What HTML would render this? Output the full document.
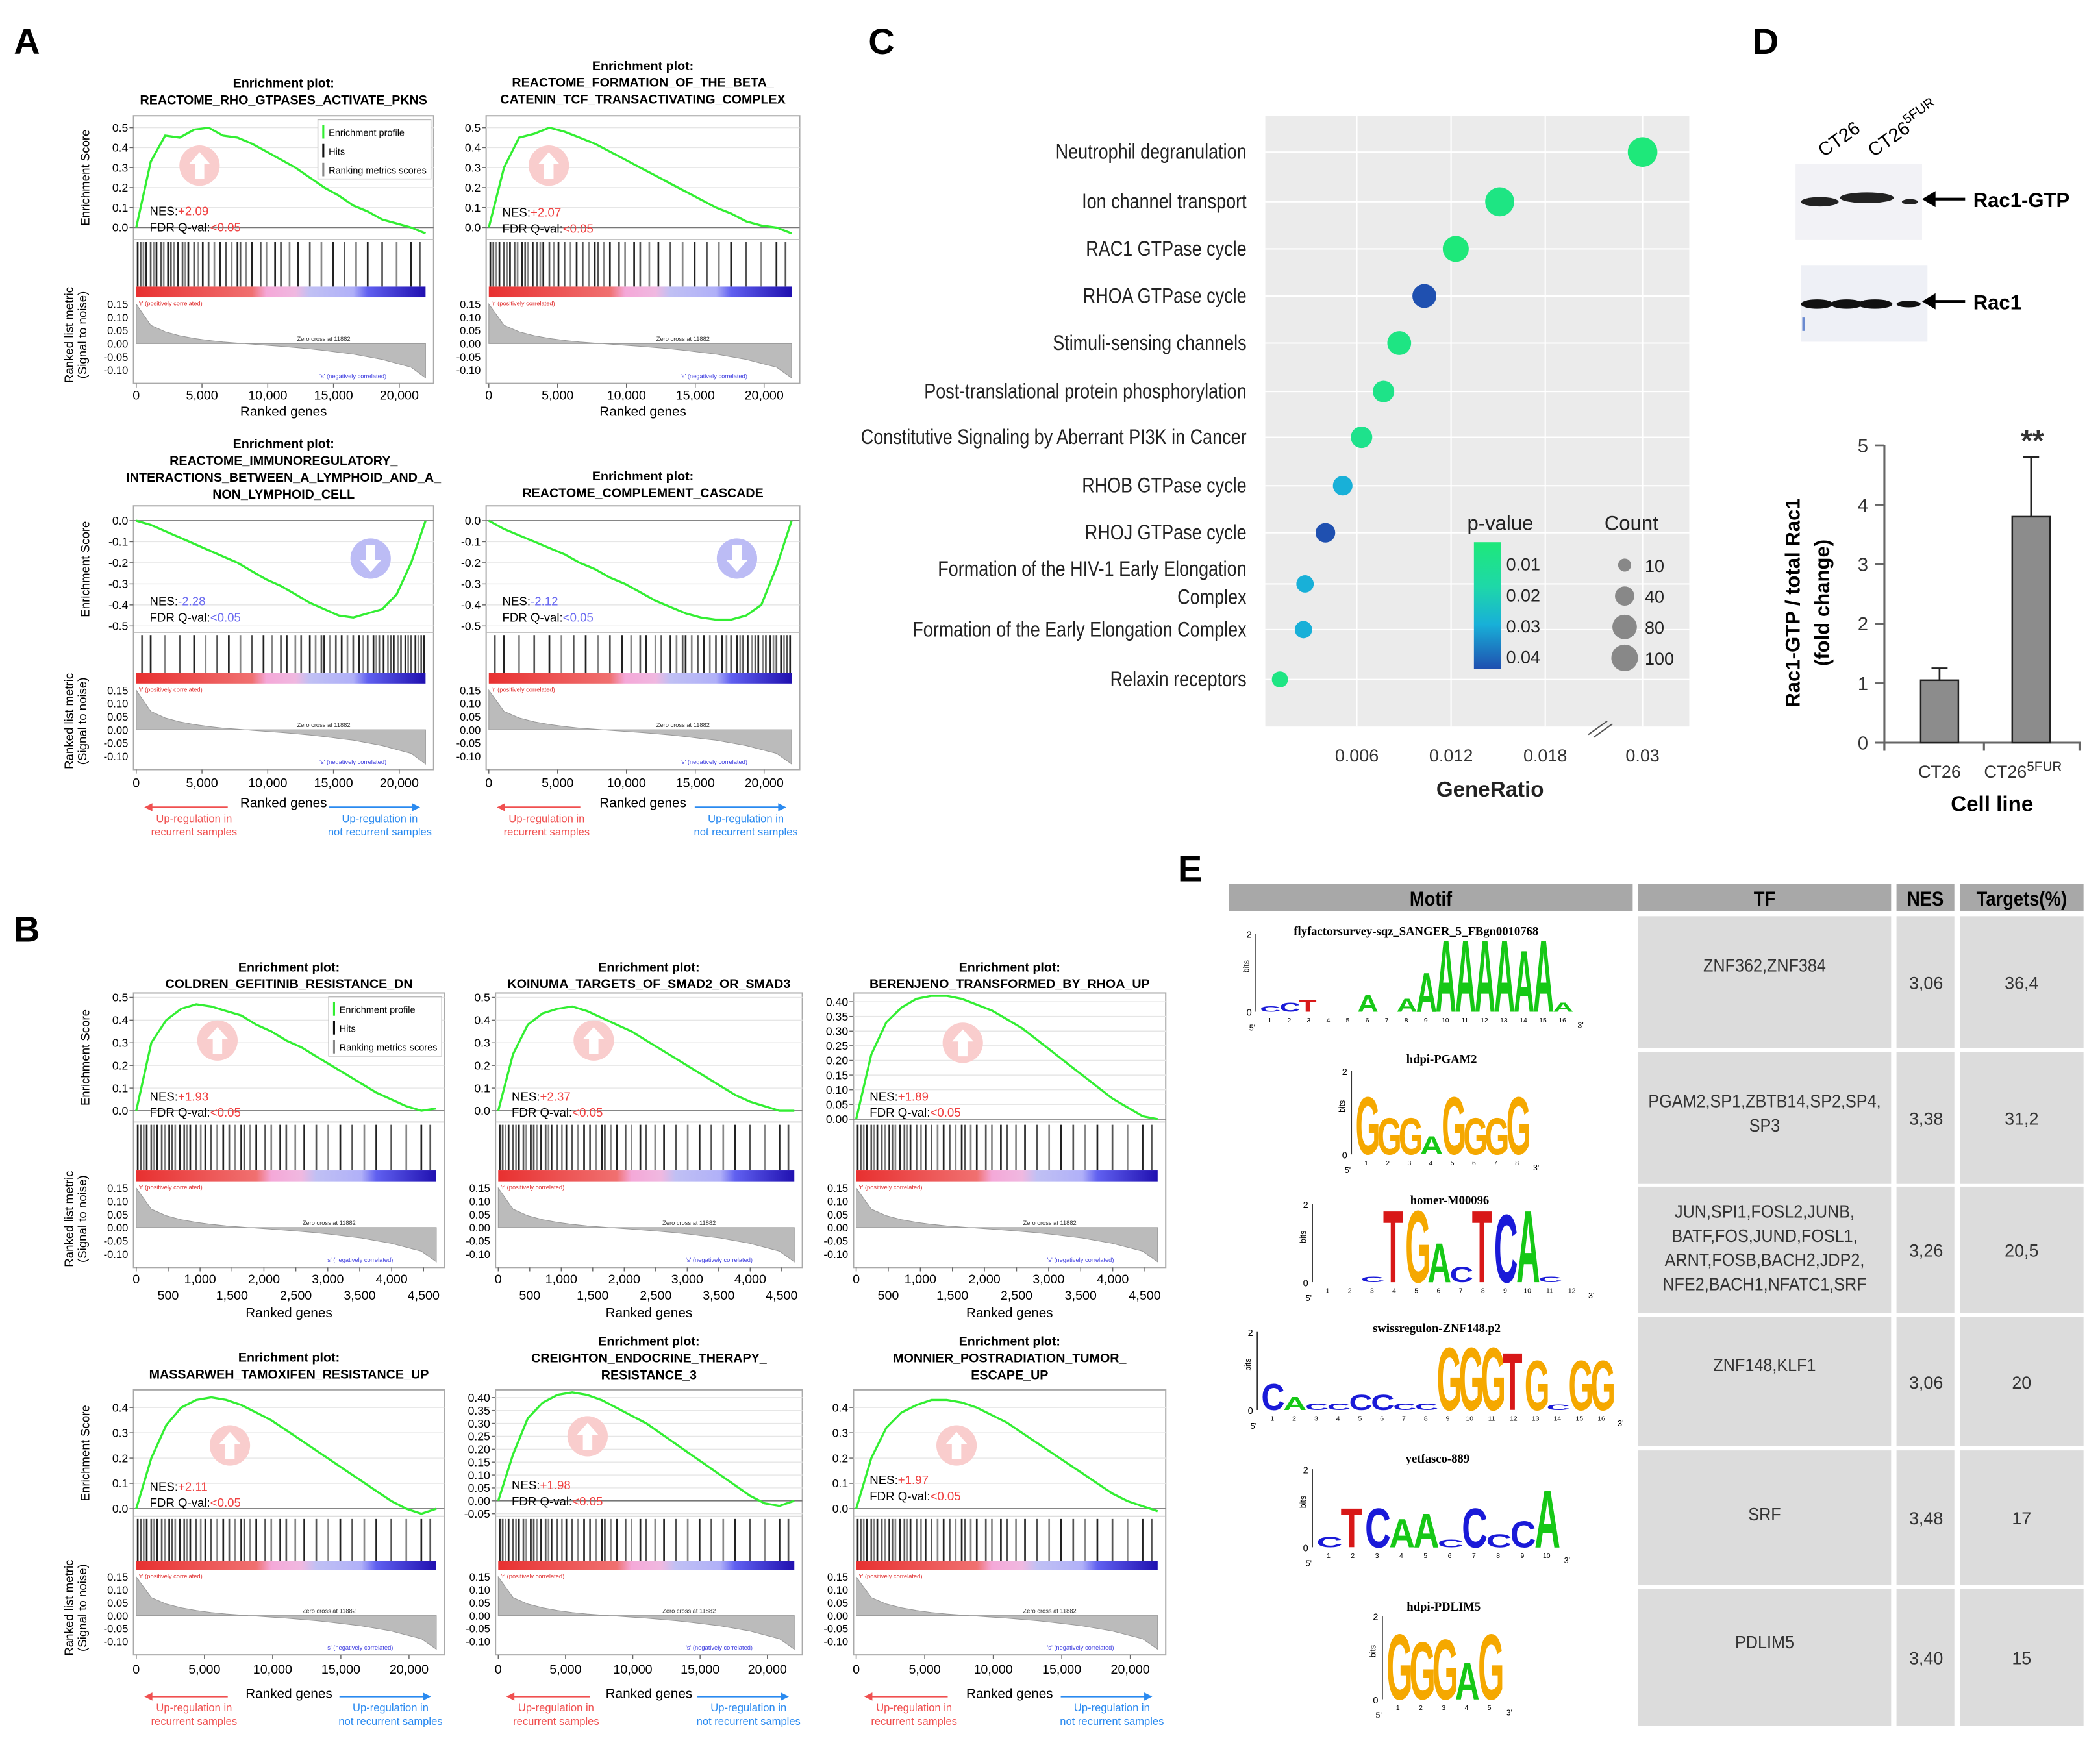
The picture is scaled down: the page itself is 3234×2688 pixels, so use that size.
<!DOCTYPE html>
<html><head><meta charset="utf-8"><style>
html,body{margin:0;padding:0;background:#fff;}
svg{display:block;font-family:"Liberation Sans",sans-serif;}
</style></head><body>
<svg id="fig" width="3234" height="2688" viewBox="0 0 1560 1297" xmlns="http://www.w3.org/2000/svg">
<defs>
<linearGradient id="rankbar" x1="0" x2="1" y1="0" y2="0">
<stop offset="0" stop-color="#e83030"/><stop offset="0.4" stop-color="#f07070"/><stop offset="0.45" stop-color="#f4a8d8"/><stop offset="0.55" stop-color="#f0b8e0"/><stop offset="0.6" stop-color="#c0c0f4"/><stop offset="0.75" stop-color="#b0b0f8"/><stop offset="0.8" stop-color="#6060f0"/><stop offset="1" stop-color="#2010b0"/>
</linearGradient>
<linearGradient id="pgrad" x1="0" x2="0" y1="0" y2="1">
<stop offset="0" stop-color="#1ee87a"/><stop offset="0.35" stop-color="#1ed8a8"/><stop offset="0.65" stop-color="#18b0d8"/><stop offset="1" stop-color="#1f50b0"/>
</linearGradient>
<linearGradient id="band" x1="0" x2="1" y1="0" y2="0">
<stop offset="0" stop-color="#222"/><stop offset="0.3" stop-color="#111"/><stop offset="0.7" stop-color="#000"/><stop offset="0.9" stop-color="#555"/><stop offset="1" stop-color="#999"/>
</linearGradient>
</defs>
</svg>
<script>
// ---------- DATA ----------
const esA1=[0,0.33,0.46,0.45,0.49,0.5,0.46,0.45,0.42,0.38,0.34,0.3,0.25,0.2,0.16,0.11,0.08,0.04,0.02,0.0,-0.03];
const esA2=[0,0.3,0.45,0.47,0.5,0.48,0.45,0.42,0.38,0.34,0.3,0.26,0.22,0.18,0.14,0.1,0.07,0.03,0.01,0.0,-0.03];
const esA3=[0,-0.02,-0.05,-0.08,-0.11,-0.14,-0.17,-0.2,-0.24,-0.28,-0.31,-0.35,-0.39,-0.42,-0.45,-0.46,-0.44,-0.42,-0.35,-0.2,0.0];
const esA4=[0,-0.04,-0.07,-0.1,-0.13,-0.16,-0.2,-0.23,-0.27,-0.3,-0.34,-0.38,-0.41,-0.44,-0.46,-0.47,-0.47,-0.45,-0.4,-0.22,0.0];
const esB1=[0,0.3,0.4,0.45,0.47,0.46,0.44,0.42,0.38,0.35,0.31,0.28,0.24,0.2,0.16,0.12,0.08,0.05,0.02,0.0,0.01];
const esB2=[0,0.25,0.38,0.43,0.45,0.46,0.44,0.41,0.38,0.35,0.31,0.27,0.23,0.19,0.15,0.11,0.07,0.04,0.02,0.0,0.0];
const esB3=[0,0.22,0.33,0.38,0.41,0.42,0.42,0.41,0.39,0.37,0.34,0.31,0.27,0.23,0.19,0.15,0.11,0.07,0.04,0.01,0.0];
const esB4=[0,0.2,0.33,0.4,0.43,0.44,0.43,0.41,0.38,0.35,0.31,0.27,0.23,0.19,0.15,0.11,0.07,0.03,0.0,-0.02,0.0];
const esB5=[0,0.18,0.32,0.38,0.41,0.42,0.41,0.39,0.36,0.33,0.3,0.26,0.22,0.18,0.14,0.1,0.06,0.02,-0.01,-0.02,0.0];
const esB6=[0,0.2,0.32,0.38,0.41,0.43,0.43,0.42,0.4,0.37,0.34,0.3,0.26,0.22,0.18,0.14,0.1,0.06,0.03,0.01,-0.01];
const hitsUp=[0.005,0.015,0.025,0.035,0.05,0.06,0.07,0.085,0.095,0.11,0.12,0.13,0.145,0.16,0.17,0.18,0.2,0.215,0.23,0.25,0.27,0.29,0.31,0.33,0.35,0.36,0.38,0.4,0.43,0.45,0.48,0.5,0.53,0.56,0.6,0.64,0.68,0.72,0.76,0.8,0.85,0.9,0.95,0.98];
const rankCurve=[0.15,0.07,0.045,0.03,0.02,0.012,0.006,0.002,-0.002,-0.006,-0.01,-0.015,-0.02,-0.026,-0.033,-0.04,-0.05,-0.06,-0.075,-0.09,-0.13];
const cTerms=["Neutrophil degranulation","Ion channel transport","RAC1 GTPase cycle","RHOA GTPase cycle","Stimuli-sensing channels","Post-translational protein phosphorylation","Constitutive Signaling by Aberrant PI3K in Cancer","RHOB GTPase cycle","RHOJ GTPase cycle","Formation of the HIV-1 Early Elongation|Complex","Formation of the Early Elongation Complex","Relaxin receptors"];
const cRatio=[0.03,0.0151,0.0123,0.0103,0.0087,0.0077,0.0063,0.0051,0.004,0.0027,0.0026,0.0011];
const cPval=[0.01,0.012,0.008,0.04,0.012,0.013,0.014,0.03,0.042,0.03,0.03,0.012];
const cCount=[100,95,70,55,55,40,40,30,30,20,20,15];
const cTicks=[0.006,0.012,0.018,0.03];
const dLabels=["CT26","CT26"];
const dValues=[1.05,3.8];
const dErrors=[0.2,1.0];
const dTicks=[0,1,2,3,4,5];

// ---------- HELPERS ----------
const NS='http://www.w3.org/2000/svg';
const svg=document.getElementById('fig');
function el(tag,attrs,parent){const e=document.createElementNS(NS,tag);for(const k in attrs)e.setAttribute(k,attrs[k]);(parent||svg).appendChild(e);return e;}
function txt(s,x,y,attrs,parent){const t=el('text',Object.assign({x:x,y:y},attrs||{}),parent);t.textContent=s;return t;}

// panel letters
[["A",10,40],["B",10,700],["C",645,40],["D",1302,40],["E",875,655]].forEach(p=>{
  const t=txt(p[0],p[1],p[2],{'font-size':27,'font-weight':'bold'});
  
  
});

// ---------- GSEA ----------
function gsea(c){
  const g=el('g',{});
  
  
  const x0=c.x0,x1=c.x1,w=x1-x0;
  const yE=v=>c.top+(c.esTop-v)/(c.esTop-c.esBot)*(c.esB-c.top);
  // titles
  c.title.forEach((s,i)=>{const t=txt(s,(x0+x1)/2,c.ty+i*12.5,{'font-size':9.5,'font-weight':'bold','text-anchor':'middle'},g);
    });
  const box=el('rect',{x:x0,y:c.top,width:w,height:c.rankB-c.top,fill:'#fff',stroke:'#aaa','stroke-width':1},g);
  
  // grid & ES ticks
  c.esTicks.forEach(v=>{
    el('line',{x1:x0,x2:x1,y1:yE(v),y2:yE(v),stroke:'#e6e6e6','stroke-width':0.7},g);
    el('line',{x1:x0-3,x2:x0,y1:yE(v),y2:yE(v),stroke:'#666','stroke-width':0.7},g);
    const t=txt(v.toFixed(c.esDec),x0-4,yE(v)+3,{'font-size':8.5,'text-anchor':'end'},g);
    
  });
  el('line',{x1:x0,x2:x1,y1:yE(0),y2:yE(0),stroke:'#777','stroke-width':0.8},g);
  el('line',{x1:x0,x2:x1,y1:c.esB,y2:c.esB,stroke:'#bbb','stroke-width':0.8},g);
  // arrow circle
  const ax=x0+w*c.arrowFx, ay=yE(c.arrowV);
  const circ=el('circle',{cx:ax,cy:ay,r:15,fill:c.up?'#f9cdcd':'#bcbcf5'},g);
  
  const d=c.up?1:-1;
  el('path',{d:`M${ax},${ay-10*d} L${ax-8},${ay-1*d} L${ax-3.5},${ay-1*d} L${ax-3.5},${ay+10*d} L${ax+3.5},${ay+10*d} L${ax+3.5},${ay-1*d} L${ax+8},${ay-1*d} Z`,fill:'#fff'},g);
  // curve
  const n=c.es.length-1;
  const pts=c.es.map((v,i)=>(x0+2+(w-8)*i/n).toFixed(1)+','+yE(v).toFixed(1)).join(' ');
  const pl=el('polyline',{points:pts,fill:'none',stroke:'#33ee33','stroke-width':1.6},g);
  
  // NES
  const nc=c.up?'#f04040':'#6a6af0';
  const t1=txt('',x0+12,c.nesY,{'font-size':9},g);
  
  el('tspan',{},t1).textContent='NES:';el('tspan',{fill:nc},t1).textContent=c.nes;
  const t2=txt('',x0+12,c.nesY+12,{'font-size':9},g);
  
  el('tspan',{},t2).textContent='FDR Q-val:';el('tspan',{fill:nc},t2).textContent=c.up?'<0.05':'<0.05';
  // legend
  if(c.legend){
    const lg=el('g',{},g);
    const lx=x1-86,ly=c.top+3;
    el('rect',{x:lx,y:ly,width:84,height:44,fill:'#fff',stroke:'#bbb','stroke-width':0.7},lg);
    [['#33ee33','Enrichment profile'],['#111','Hits'],['#888','Ranking metrics scores']].forEach((e,i)=>{
      el('line',{x1:lx+4,x2:lx+4,y1:ly+4+i*14,y2:ly+14+i*14,stroke:e[0],'stroke-width':1.5},lg);
      txt(e[1],lx+8,ly+12+i*14,{'font-size':7},lg);
    });
  }
  // hits
  const hg=el('g',{},g);
  c.hits.forEach((f,i)=>{const hx=x0+2+(w-8)*(c.up?f:1-f);
    el('line',{x1:hx,x2:hx,y1:c.esB+2,y2:c.hitB,stroke:i%3==0?'#222':(i%3==1?'#555':'#888'),'stroke-width':1.3},hg);});
  const rb=el('rect',{x:x0+2,y:c.hitB,width:w-8,height:c.colB-c.hitB,fill:'url(#rankbar)'},g);
  
  // ranked metric
  const r0=c.colB+5,r1=c.rankB-10;
  const yR=v=>r0+(0.15-v)/0.25*(r1-r0);
  [0.15,0.10,0.05,0.00,-0.05,-0.10].forEach(v=>{
    const t=txt(v.toFixed(2),x0-4,yR(v)+3,{'font-size':8,'text-anchor':'end'},g);
    });
  const m=rankCurve.length-1;
  let dd=`M${x0+2},${yR(0)}`;
  rankCurve.forEach((v,i)=>{dd+=` L${(x0+2+(w-8)*i/m).toFixed(1)},${yR(v).toFixed(1)}`;});
  dd+=` L${x1-6},${yR(0)} Z`;
  const ar=el('path',{d:dd,fill:'#bbb',stroke:'#999','stroke-width':0.5},g);
  
  txt("'r' (positively correlated)",x0+4,c.colB+6,{'font-size':4.5,fill:'#e03030'},g);
  txt("Zero cross at 11882",(x0+x1)/2+10,yR(0)-2,{'font-size':4.5,fill:'#333'},g);
  txt("'s' (negatively correlated)",x0+w*0.62,c.rankB-4,{'font-size':4.5,fill:'#4040e0'},g);
  // x ticks
  c.xTicks.forEach((v,i)=>{const tx=x0+2+(w-8)*v/c.xMax;
    el('line',{x1:tx,x2:tx,y1:c.rankB,y2:c.rankB+3,stroke:'#666','stroke-width':0.7},g);
    const ly=c.xAlt?(i%2==0?c.xy:c.xy+12):c.xy;
    const t=txt(v.toLocaleString('en-US'),tx,ly,{'font-size':9.5,'text-anchor':'middle'},g);
    });
  const xt=txt('Ranked genes',(x0+x1)/2,c.xty,{'font-size':10,'text-anchor':'middle'},g);
  
  if(c.ylab){
    const yl=txt('Enrichment Score',0,0,{'font-size':9,'text-anchor':'middle',transform:`translate(${x0-33},${(c.top+c.esB)/2}) rotate(-90)`},g);
    
    const y2=txt('Ranked list metric',0,0,{'font-size':9,'text-anchor':'middle',transform:`translate(${x0-45},${(c.hitB+c.rankB)/2}) rotate(-90)`},g);
    
    txt('(Signal to noise)',0,0,{'font-size':9,'text-anchor':'middle',transform:`translate(${x0-35},${(c.hitB+c.rankB)/2}) rotate(-90)`},g);
  }
  if(c.updown){
    const ug=el('g',{},g);
    const uy=c.updown;
    el('line',{x1:x0+10,x2:x0+70,y1:uy,y2:uy,stroke:'#f05050','stroke-width':1.2},ug);
    el('path',{d:`M${x0+8},${uy} l6,-3 v6 z`,fill:'#f05050'},ug);
    txt('Up-regulation in',x0+45,uy+11,{'font-size':8,fill:'#f05050','text-anchor':'middle'},ug);
    txt('recurrent samples',x0+45,uy+21,{'font-size':8,fill:'#f05050','text-anchor':'middle'},ug);
    el('line',{x1:x1-78,x2:x1-15,y1:uy,y2:uy,stroke:'#2a8af0','stroke-width':1.2},ug);
    el('path',{d:`M${x1-10},${uy} l-6,-3 v6 z`,fill:'#2a8af0'},ug);
    txt('Up-regulation in',x1-40,uy+11,{'font-size':8,fill:'#2a8af0','text-anchor':'middle'},ug);
    txt('not recurrent samples',x1-40,uy+21,{'font-size':8,fill:'#2a8af0','text-anchor':'middle'},ug);
  }
}
const aTicks=[0,5000,10000,15000,20000];
const bTicks=[0,500,1000,1500,2000,2500,3000,3500,4000,4500];
const up5=[0,0.1,0.2,0.3,0.4,0.5], dn5=[0,-0.1,-0.2,-0.3,-0.4,-0.5], up4=[0,0.1,0.2,0.3,0.4];
const up40=[0,0.05,0.1,0.15,0.2,0.25,0.3,0.35,0.4], up40n=[-0.05,0,0.05,0.1,0.15,0.2,0.25,0.3,0.35,0.4];
const rowA1={top:86,esB:178,hitB:213,colB:221,rankB:285,xy:297,xty:309,xMax:22000,xTicks:aTicks,esDec:1};
const rowA2={top:376,esB:470,hitB:500,colB:508,rankB:572,xy:585,xty:600,xMax:22000,xTicks:aTicks,esDec:1,updown:600};
const rowB1={top:738,esB:834,hitB:870,colB:878,rankB:942,xy:954,xty:979,xMax:4700,xTicks:bTicks,xAlt:true,esDec:1};
const rowB2={top:1033,esB:1127,hitB:1160,colB:1167,rankB:1230,xy:1244,xty:1262,xMax:22000,xTicks:aTicks,esDec:1,updown:1261};
gsea(Object.assign({},rowA1,{name:'gsea-rho-gtpases-pkns',x0:99,x1:322,ty:65,title:['Enrichment plot:','REACTOME_RHO_GTPASES_ACTIVATE_PKNS'],esTop:0.56,esBot:-0.06,esTicks:up5,es:esA1,up:true,nes:'+2.09',nesY:160,arrowFx:0.22,arrowV:0.31,legend:true,ylab:true,hits:hitsUp}));
gsea(Object.assign({},rowA1,{name:'gsea-beta-catenin',x0:361,x1:594,ty:52,title:['Enrichment plot:','REACTOME_FORMATION_OF_THE_BETA_','CATENIN_TCF_TRANSACTIVATING_COMPLEX'],esTop:0.56,esBot:-0.06,esTicks:up5,es:esA2,up:true,nes:'+2.07',nesY:161,arrowFx:0.2,arrowV:0.31,hits:hitsUp}));
gsea(Object.assign({},rowA2,{name:'gsea-immunoregulatory',x0:99,x1:322,ty:333,title:['Enrichment plot:','REACTOME_IMMUNOREGULATORY_','INTERACTIONS_BETWEEN_A_LYMPHOID_AND_A_','NON_LYMPHOID_CELL'],esTop:0.07,esBot:-0.53,esTicks:dn5,es:esA3,up:false,nes:'-2.28',nesY:450,arrowFx:0.79,arrowV:-0.18,ylab:true,hits:hitsUp}));
gsea(Object.assign({},rowA2,{name:'gsea-complement-cascade',x0:361,x1:594,ty:357,title:['Enrichment plot:','REACTOME_COMPLEMENT_CASCADE'],esTop:0.07,esBot:-0.53,esTicks:dn5,es:esA4,up:false,nes:'-2.12',nesY:450,arrowFx:0.8,arrowV:-0.18,hits:hitsUp}));
gsea(Object.assign({},rowB1,{name:'gsea-gefitinib',x0:99,x1:330,ty:722,title:['Enrichment plot:','COLDREN_GEFITINIB_RESISTANCE_DN'],esTop:0.52,esBot:-0.05,esTicks:up5,es:esB1,up:true,nes:'+1.93',nesY:818,arrowFx:0.27,arrowV:0.31,legend:true,ylab:true,hits:hitsUp}));
gsea(Object.assign({},rowB1,{name:'gsea-smad2-smad3',x0:368,x1:596,ty:722,title:['Enrichment plot:','KOINUMA_TARGETS_OF_SMAD2_OR_SMAD3'],esTop:0.52,esBot:-0.05,esTicks:up5,es:esB2,up:true,nes:'+2.37',nesY:818,arrowFx:0.32,arrowV:0.31,hits:hitsUp}));
gsea(Object.assign({},rowB1,{name:'gsea-rhoa-up',x0:634,x1:866,ty:722,title:['Enrichment plot:','BERENJENO_TRANSFORMED_BY_RHOA_UP'],esTop:0.43,esBot:-0.01,esTicks:up40,es:esB3,up:true,nes:'+1.89',nesY:818,arrowFx:0.35,arrowV:0.26,hits:hitsUp,esDec:2}));
gsea(Object.assign({},rowB2,{name:'gsea-tamoxifen',x0:99,x1:330,ty:1012,title:['Enrichment plot:','MASSARWEH_TAMOXIFEN_RESISTANCE_UP'],esTop:0.47,esBot:-0.03,esTicks:up4,es:esB4,up:true,nes:'+2.11',nesY:1108,arrowFx:0.31,arrowV:0.25,ylab:true,hits:hitsUp}));
gsea(Object.assign({},rowB2,{name:'gsea-endocrine-therapy',x0:368,x1:596,ty:1000,title:['Enrichment plot:','CREIGHTON_ENDOCRINE_THERAPY_','RESISTANCE_3'],esTop:0.43,esBot:-0.06,esTicks:up40n,es:esB5,up:true,nes:'+1.98',nesY:1107,arrowFx:0.3,arrowV:0.25,hits:hitsUp,esDec:2}));
gsea(Object.assign({},rowB2,{name:'gsea-tumor-escape',x0:634,x1:866,ty:1000,title:['Enrichment plot:','MONNIER_POSTRADIATION_TUMOR_','ESCAPE_UP'],esTop:0.47,esBot:-0.03,esTicks:up4,es:esB6,up:true,nes:'+1.97',nesY:1103,arrowFx:0.33,arrowV:0.25,hits:hitsUp}));

// ---------- PANEL C ----------
(function(){
  const g=el('g',{});
  const L=940,R=1255,T=86,B=540;
  const bg=el('rect',{x:L,y:T,width:R-L,height:B-T,fill:'#ebebeb'},g);
  
  const xS=v=>v<=0.02?938+v*11667:1190+(v-0.0274)*11667;
  const rowY=[113,150,185,220,255,291,325,361,396,434,468,505];
  cTicks.forEach(v=>{el('line',{x1:xS(v),x2:xS(v),y1:T,y2:B,stroke:'#fff','stroke-width':1},g);
    const t=txt(v.toString(),xS(v),566,{'font-size':13,'text-anchor':'middle',fill:'#333'},g);
    });
  cTerms.forEach((s,i)=>{el('line',{x1:L,x2:R,y1:rowY[i],y2:rowY[i],stroke:'#fff','stroke-width':1},g);
    const parts=s.split('|');
    parts.forEach((p,j)=>{const yy=rowY[i]+5+(parts.length>1?(j*21-11):0);
      const t=txt(p,0,0,{'font-size':15.5,'text-anchor':'end',fill:'#222',transform:`translate(926,${yy}) scale(0.84,1)`},g);
      });
  });
  // break mark
  el('line',{x1:1180,x2:1194,y1:546,y2:536,stroke:'#555','stroke-width':1},g);
  el('line',{x1:1184,x2:1198,y1:548,y2:538,stroke:'#555','stroke-width':1},g);
  const col=p=>{const stops=[[0.01,[30,232,122]],[0.02,[30,216,168]],[0.03,[24,176,216]],[0.04,[31,80,176]]];
    p=Math.max(0.01,Math.min(0.04,p));for(let k=0;k<3;k++){if(p<=stops[k+1][0]){const f=(p-stops[k][0])/0.01;const a=stops[k][1],b=stops[k+1][1];
    return `rgb(${Math.round(a[0]+(b[0]-a[0])*f)},${Math.round(a[1]+(b[1]-a[1])*f)},${Math.round(a[2]+(b[2]-a[2])*f)})`;}}return 'rgb(31,80,176)';};
  const rS=n=>2.8+Math.sqrt(n)*0.82;
  cRatio.forEach((v,i)=>{const c=el('circle',{cx:xS(v),cy:rowY[i],r:rS(cCount[i]),fill:col(cPval[i])},g);
    });
  const xt=txt('GeneRatio',1107,592,{'font-size':16,'font-weight':'bold','text-anchor':'middle',fill:'#222'},g);
  
  // legends
  const pl=el('g',{},g);
  txt('p-value',1090,394,{'font-size':15,fill:'#222'},pl);
  el('rect',{x:1095,y:403,width:20,height:94,fill:'url(#pgrad)'},pl);
  ['0.01','0.02','0.03','0.04'].forEach((s,i)=>txt(s,1119,424+i*23,{'font-size':13,fill:'#222'},pl));
  const cl=el('g',{},g);
  txt('Count',1192,394,{'font-size':15,fill:'#222'},cl);
  [10,40,80,100].forEach((n,i)=>{el('circle',{cx:1207,cy:420+i*23,r:rS(n)*0.9,fill:'#888'},cl);txt(String(n),1222,425+i*23,{'font-size':13,fill:'#222'},cl);});
})();

// ---------- PANEL D ----------
(function(){
  const g=el('g',{});
  el('rect',{x:1334,y:122,width:94,height:56,fill:'#f2f2f6'},g);
  el('rect',{x:1338,y:197,width:94,height:57,fill:'#eef0f6'},g);
  [[1352,150,14,3.5],[1387,147,20,4],[1419,150,6,2]].forEach(b=>el('ellipse',{cx:b[0],cy:b[1],rx:b[2],ry:b[3],fill:'#222'},g));
  [[1350,226,12,3.5],[1372,226,12,3.5],[1393,226,13,3.5],[1418,226,9,2.5]].forEach(b=>el('ellipse',{cx:b[0],cy:b[1],rx:b[2],ry:b[3],fill:'#111'},g));
  el('rect',{x:1339,y:236,width:2,height:10,fill:'#6a8ad0'},g);
  txt('CT26',0,0,{'font-size':14,transform:'translate(1355,117) rotate(-35)'},g);
  const t=txt('CT26',0,0,{'font-size':14,transform:'translate(1392,117) rotate(-35)'},g);
  el('tspan',{'font-size':10,dy:-6},t).textContent='5FUR';
  [[148,'Rac1-GTP'],[224,'Rac1']].forEach(a=>{el('line',{x1:1432,x2:1460,y1:a[0],y2:a[0],stroke:'#000','stroke-width':2},g);
    el('path',{d:`M1428,${a[0]} l10,-6 v12 z`,fill:'#000'},g);
    const lt=txt(a[1],1466,a[0]+6,{'font-size':15,'font-weight':'bold'},g);});
  const bc=el('g',{});
  const y=v=>552-v*44.2, xs=[1441,1509];
  dTicks.forEach(v=>{el('line',{x1:1393,x2:1400,y1:y(v),y2:y(v),stroke:'#666','stroke-width':1.3},bc);
    const tt=txt(String(v),1388,y(v)+5,{'font-size':14,'text-anchor':'end',fill:'#333'},bc);});
  el('line',{x1:1400,x2:1400,y1:y(5),y2:558,stroke:'#666','stroke-width':1.5},bc);
  el('line',{x1:1393,x2:1546,y1:552,y2:552,stroke:'#666','stroke-width':1.5},bc);
  [1400,1474,1545].forEach(xx=>el('line',{x1:xx,x2:xx,y1:552,y2:558,stroke:'#666','stroke-width':1.5},bc));
  dValues.forEach((v,i)=>{
    el('line',{x1:xs[i],x2:xs[i],y1:y(v),y2:y(v+dErrors[i]),stroke:'#222','stroke-width':1.3},bc);
    el('line',{x1:xs[i]-6,x2:xs[i]+6,y1:y(v+dErrors[i]),y2:y(v+dErrors[i]),stroke:'#222','stroke-width':1.3},bc);
    const r=el('rect',{x:xs[i]-14,y:y(v),width:28,height:552-y(v),fill:'#8c8c8c',stroke:'#222','stroke-width':1.2},bc);
    
    const lt=txt(dLabels[i],xs[i]-(i?6:0),578,{'font-size':13,'text-anchor':'middle',fill:'#333'},bc);
    
    if(i==1){el('tspan',{'font-size':10,dy:-5},lt).textContent='5FUR';}
  });
  txt('**',1510,335,{'font-size':22,'font-weight':'bold','text-anchor':'middle',fill:'#333'},bc);
  const xt=txt('Cell line',1480,603,{'font-size':16,'font-weight':'bold','text-anchor':'middle'},bc);
  const yt=txt('Rac1-GTP / total Rac1',0,0,{'font-size':15,'font-weight':'bold','text-anchor':'middle',transform:'translate(1337,448) rotate(-90)'},bc);
  txt('(fold change)',0,0,{'font-size':15,'font-weight':'bold','text-anchor':'middle',transform:'translate(1359,448) rotate(-90)'},bc);
})();

// ---------- PANEL E ----------
(function(){
  const g=el('g',{});
  const cols=[[913,1213],[1217,1405],[1409,1452],[1456,1548]];
  const heads=['Motif','TF','NES','Targets(%)'];
  cols.forEach((c,i)=>{el('rect',{x:c[0],y:657,width:c[1]-c[0],height:20,fill:'#a8a8a8'},g);
    const t=txt(heads[i],(c[0]+c[1])/2,673,{'font-size':15,'font-weight':'bold','text-anchor':'middle',transform:`translate(${(c[0]+c[1])/2*0.12},0) scale(0.88,1)`},g);
    });
  const rows=[[681,779],[782,880],[882,976],[979,1075],[1078,1178],[1181,1283]];
  const tfs=[['ZNF362,ZNF384'],['PGAM2,SP1,ZBTB14,SP2,SP4,','SP3'],['JUN,SPI1,FOSL2,JUNB,','BATF,FOS,JUND,FOSL1,','ARNT,FOSB,BACH2,JDP2,','NFE2,BACH1,NFATC1,SRF'],['ZNF148,KLF1'],['SRF'],['PDLIM5']];
  const nes=['3,06','3,38','3,26','3,06','3,48','3,40'];
  const tg=['36,4','31,2','20,5','20','17','15'];
  const tfY=[722,823,905,1019,1130,1225];
  rows.forEach((r,i)=>{
    [1,2,3].forEach(k=>el('rect',{x:cols[k][0],y:r[0],width:cols[k][1]-cols[k][0],height:r[1]-r[0],fill:'#dcdcdc'},g));
    tfs[i].forEach((s,j)=>{const t=txt(s,0,0,{'font-size':13.5,'text-anchor':'middle',fill:'#333',transform:`translate(1311,${tfY[i]+j*18}) scale(0.9,1)`},g);});
    const my=(r[0]+r[1])/2+5;
    const n1=txt(nes[i],1431,my,{'font-size':13,'text-anchor':'middle',fill:'#333'},g);
    const n2=txt(tg[i],1502,my,{'font-size':13,'text-anchor':'middle',fill:'#333'},g);
  });
  const C={A:'#16c816',C:'#1a1ad8',G:'#f5a800',T:'#d81818'};
  const logos=[
    {t:'flyfactorsurvey-sqz_SANGER_5_FBgn0010768',ty:695,x:936,base:752,lw:14.5,axH:58,letters:[['C',4],['C',7],['T',9],['',0],['',0],['A',13],['',0],['A',10],['A',30],['A',55],['A',55],['A',55],['A',55],['A',47],['A',55],['A',7]]},
    {t:'hdpi-PGAM2',ty:790,x:1007,base:858,lw:16,axH:62,letters:[['G',44],['G',28],['G',28],['A',14],['G',44],['G',28],['G',28],['G',44]]},
    {t:'homer-M00096',ty:895,x:978,base:953,lw:16.5,axH:58,letters:[['',0],['',0],['c',4],['T',55],['G',55],['A',30],['C',12],['T',55],['C',52],['A',55],['c',4],['',0]]},
    {t:'swissregulon-ZNF148.p2',ty:990,x:937,base:1048,lw:16.3,axH:58,letters:[['C',20],['A',10],['c',5],['c',5],['C',12],['C',12],['c',5],['c',5],['G',48],['G',48],['G',48],['T',44],['G',38],['c',4],['G',38],['G',38]]},
    {t:'yetfasco-889',ty:1087,x:978,base:1150,lw:18,axH:58,letters:[['c',8],['T',30],['C',30],['A',22],['A',26],['c',6],['C',30],['c',10],['C',20],['A',44]]},
    {t:'hdpi-PDLIM5',ty:1197,x:1030,base:1263,lw:17,axH:62,letters:[['G',50],['G',44],['G',46],['A',28],['G',50]]}
  ];
  logos.forEach((L,i)=>{
    const lg=el('g',{},g);
    const w=L.letters.length*L.lw;
    txt(L.t,L.x+w/2,L.ty,{'font-size':9,'font-weight':'bold','font-family':'Liberation Serif, serif','text-anchor':'middle'},lg);
    el('line',{x1:L.x-3,x2:L.x-3,y1:L.base-L.axH,y2:L.base,stroke:'#333','stroke-width':0.8},lg);
    txt('bits',0,0,{'font-size':6,transform:`translate(${L.x-8},${L.base-L.axH/2}) rotate(-90)`},lg);
    txt('2',L.x-10,L.base-L.axH+3,{'font-size':7},lg);txt('0',L.x-10,L.base+3,{'font-size':7},lg);
    txt("5'",L.x-8,L.base+14,{'font-size':6},lg);txt("3'",L.x+w+4,L.base+12,{'font-size':6},lg);
    L.letters.forEach((l,k)=>{
      const lx=L.x+k*L.lw;
      txt(String(k+1),lx+L.lw/2,L.base+8,{'font-size':5,'text-anchor':'middle'},lg);
      if(!l[0])return;
      const ch=l[0].toUpperCase();
      const sy=l[1]/14.4, sx=L.lw/13.5;
      txt(ch,0,0,{'font-size':20,'font-weight':'bold',fill:C[ch],transform:`translate(${lx},${L.base}) scale(${sx.toFixed(3)},${sy.toFixed(3)})`},lg);
    });
  });
})();
</script>
</body></html>
